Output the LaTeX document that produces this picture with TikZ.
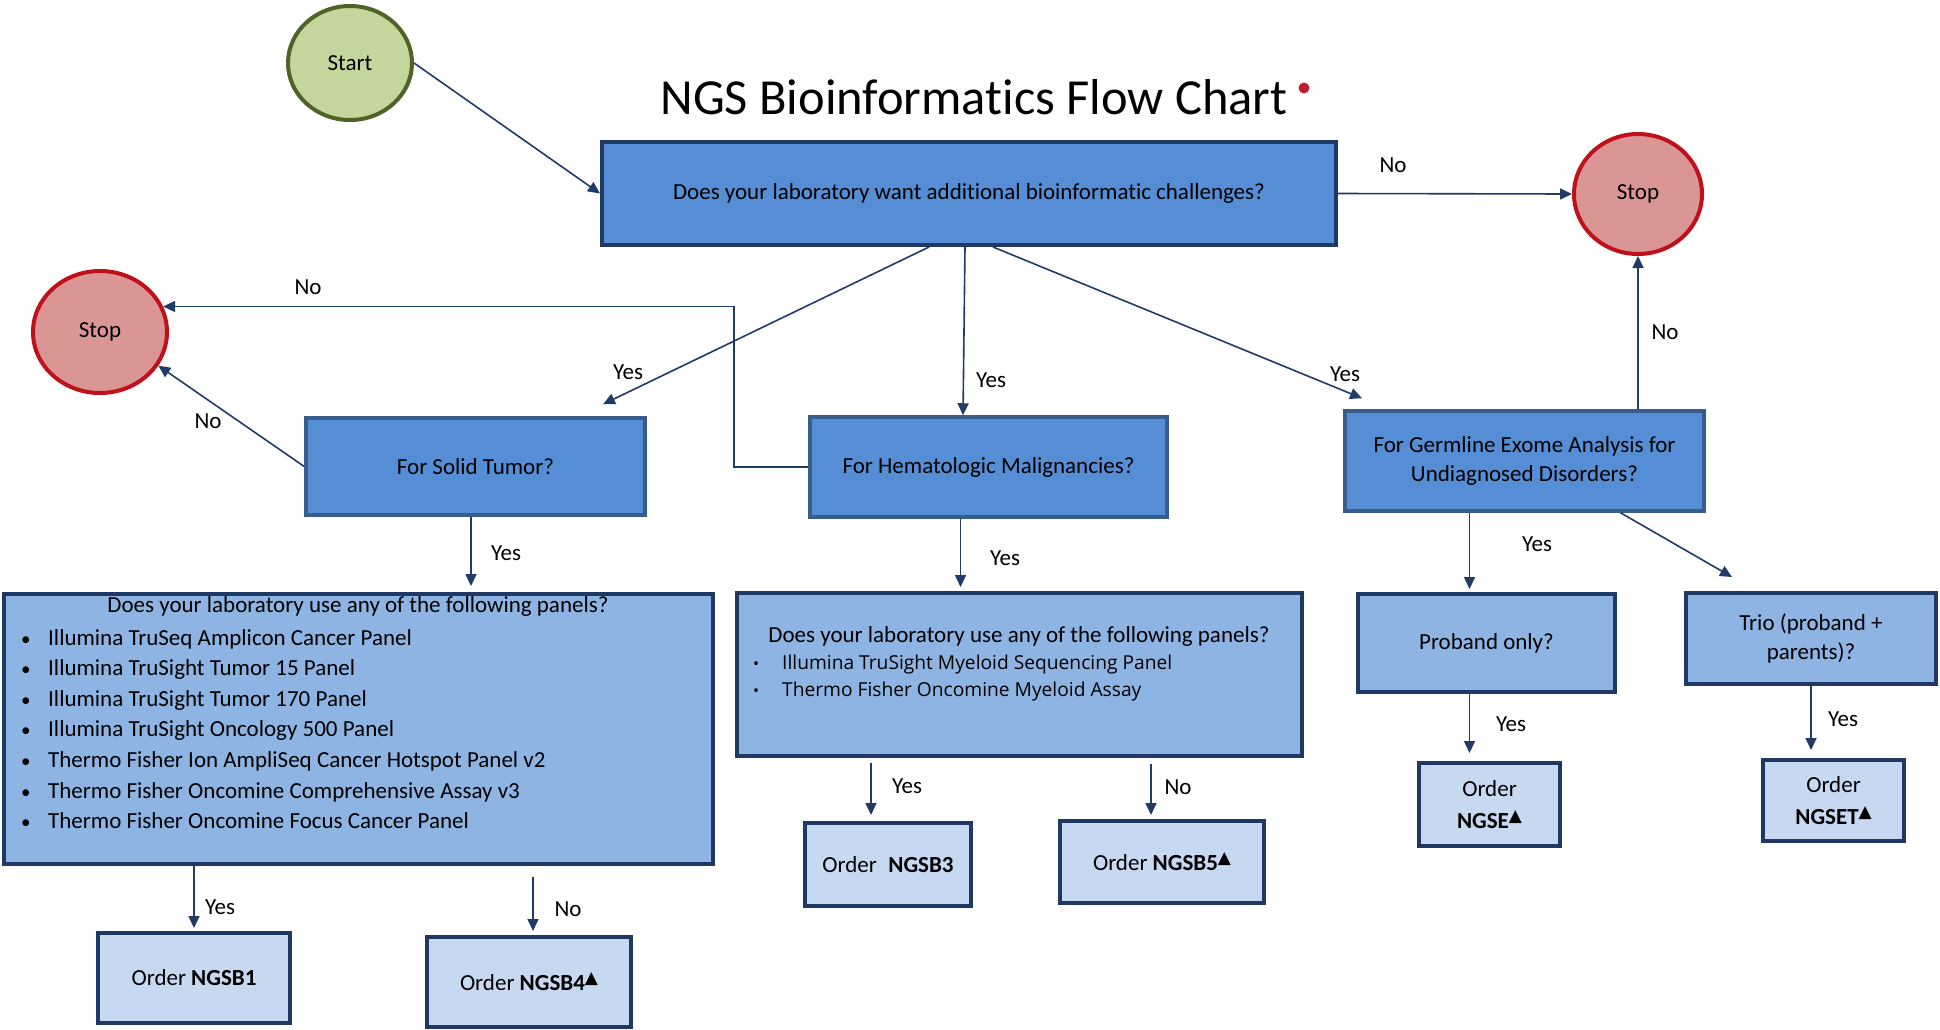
\documentclass[tikz,border=0pt]{standalone}
\usepackage{fontspec}
\setmainfont{Carlito}[Ligatures=NoCommon]
\newfontfamily\symfont{DejaVu Sans}
\newfontfamily\listfont{Open Sans}
\usetikzlibrary{shapes.geometric,arrows.meta}
\definecolor{arrowc}{HTML}{1F3B66}
\definecolor{navyb}{HTML}{1F3864}
\definecolor{midb}{HTML}{558ED5}
\definecolor{midbord}{HTML}{385D8A}
\definecolor{lightb}{HTML}{8EB4E3}
\definecolor{paleb}{HTML}{C6D9F1}
\definecolor{startfill}{HTML}{C3D69B}
\definecolor{startbord}{HTML}{4F6228}
\definecolor{stopfill}{HTML}{D99694}
\definecolor{stopbord}{HTML}{C0101A}
\definecolor{dotred}{HTML}{C0202A}
\newcommand\bodyfnt{\fontsize{23}{28.5}\selectfont}
\newcommand\tri{\raisebox{7pt}{\symfont\fontsize{17}{17}\selectfont ▲}}
\newcommand\bigbul{{\fontsize{19}{19}\selectfont\textbullet}}
\newcommand\smallbul{{\fontsize{16}{16}\selectfont\textbullet}}
\newcommand\bul{\makebox[27pt][l]{\bigbul}}
\newcommand\bulb{\makebox[29pt][l]{\smallbul}}
\tikzset{
  arr/.style={draw=arrowc, line width=1.6pt, -{Triangle[length=12pt,width=11pt]}},
  basebox/.style={rectangle, inner sep=0pt, align=center, font=\bodyfnt, text=black},
  qmain/.style={basebox, draw=navyb, line width=4pt, fill=midb},
  qbox/.style={basebox, draw=midbord, line width=3.5pt, fill=midb},
  panel/.style={basebox, draw=navyb, line width=4pt, fill=lightb},
  order/.style={basebox, draw=navyb, line width=4pt, fill=paleb},
  startc/.style={ellipse, inner sep=0pt, draw=startbord, line width=4pt, fill=startfill, font=\bodyfnt},
  stopc/.style={ellipse, inner sep=0pt, draw=stopbord, line width=4pt, fill=stopfill, font=\bodyfnt},
  lbl/.style={inner sep=0pt, font=\bodyfnt},
}
\begin{document}
\begin{tikzpicture}[x=1pt,y=-1pt]
\useasboundingbox (0,0) rectangle (1940,1029);
% nodes
\node[startc, minimum width=124pt, minimum height=114pt] (start) at (350,63) {Start};
\node[inner sep=0pt, font=\fontsize{50.5}{60}\selectfont] (title) at (974,97) {NGS Bioinformatics Flow Chart};
\node[circle, fill=dotred, minimum size=11pt, inner sep=0pt] (dot) at (1304,88) {};
\node[qmain, minimum width=734pt, minimum height=103pt] (q0) at (969,193.5) {Does your laboratory want additional bioinformatic challenges?};
\node[stopc, minimum width=128pt, minimum height=120pt] (stopR) at (1638,194) {Stop};
\node[stopc, minimum width=134pt, minimum height=122pt] (stopL) at (100,332) {Stop};
\node[qbox, minimum width=339pt, minimum height=97pt] (solid) at (475.5,466.5) {For Solid Tumor?};
\node[qbox, minimum width=357pt, minimum height=100pt] (heme) at (988.5,467) {For Hematologic Malignancies?};
\node[qbox, minimum width=359pt, minimum height=100pt] (germ) at (1524.5,461) {For Germline Exome Analysis for\\Undiagnosed Disorders?};
\node[panel, minimum width=709pt, minimum height=270pt] (p1) at (358.5,729) {};
\node[panel, minimum width=565pt, minimum height=163pt] (p2) at (1019.5,674.5) {};
\node[panel, minimum width=257pt, minimum height=98pt] (proband) at (1486.5,643) {Proband only?};
\node[panel, minimum width=250pt, minimum height=91pt] (trio) at (1811,638.5) {Trio (proband +\\parents)?};
\node[order, minimum width=141pt, minimum height=83pt] (ngse) at (1489.5,804.5) {Order\\[3pt]\textbf{NGSE}\tri};
\node[order, minimum width=141pt, minimum height=81pt] (ngset) at (1833.5,800.5) {Order\\[3pt]\textbf{NGSET}\tri};
\node[order, minimum width=192pt, minimum height=90pt] (ngsb1) at (194,978) {Order \textbf{NGSB1}};
\node[order, minimum width=204pt, minimum height=90pt] (ngsb4) at (529,982) {Order \textbf{NGSB4}\tri};
\node[order, minimum width=166pt, minimum height=83pt] (ngsb3) at (888,864.5) {Order\enspace\textbf{NGSB3}};
\node[order, minimum width=204pt, minimum height=82pt] (ngsb5) at (1162,862) {Order \textbf{NGSB5}\tri};
% panel texts
\node[lbl] (p1head) at (358,606) {Does your laboratory use any of the following panels?};
\node[inner sep=0pt, anchor=north west, align=left, font=\fontsize{23}{30.6}\selectfont] (p1list) at (21,629)
 {\bul Illumina TruSeq Amplicon Cancer Panel\\
  \bul Illumina TruSight Tumor 15 Panel\\
  \bul Illumina TruSight Tumor 170 Panel\\
  \bul Illumina TruSight Oncology 500 Panel\\
  \bul Thermo Fisher Ion AmpliSeq Cancer Hotspot Panel v2\\
  \bul Thermo Fisher Oncomine Comprehensive Assay v3\\
  \bul Thermo Fisher Oncomine Focus Cancer Panel};
\node[lbl] (p2head) at (1019,636) {Does your laboratory use any of the following panels?};
\node[inner sep=0pt, anchor=north west, align=left, font=\listfont\fontsize{19.2}{27}\selectfont] (p2list) at (753,655)
 {\bulb Illumina TruSight Myeloid Sequencing Panel\\
  \bulb Thermo Fisher Oncomine Myeloid Assay};
% connectors
\draw[arr] (start.east) -- (q0.west);
\draw[arr] (q0.east) -- (stopR.west);
\draw[arr] ([xshift=-40pt]q0.south) -- ([xshift=127.5pt,yshift=12pt]solid.north);
\draw[arr] ([xshift=-4pt]q0.south) -- ([xshift=-25.5pt]heme.north);
\draw[arr] ([xshift=24pt]q0.south) -- ([xshift=-162.5pt,yshift=11pt]germ.north);
\draw[arr] (solid.west) -- (stopL.-30);
\draw[arr] (heme.west) -- ++(-74,0) |- (stopL.22);
\draw[arr] (germ.north -| stopR.south) -- (stopR.south);
\draw[arr] ([xshift=-4.5pt]solid.south) -- ([xshift=-4.5pt,yshift=6pt]solid.south |- p1.north);
\draw[arr] ([xshift=-28pt]heme.south) -- ([xshift=-28pt,yshift=4pt]heme.south |- p2.north);
\draw[arr] ([xshift=-17pt]proband.north |- germ.south) -- ([xshift=-17pt,yshift=3pt]proband.north);
\draw[arr] ([xshift=96pt]germ.south) -- ([xshift=-79pt,yshift=14pt]trio.north);
\draw[arr] ([xshift=-17pt]proband.south) -- ([xshift=-20pt,yshift=8pt]ngse.north);
\draw[arr] (trio.south) -- ([yshift=8pt]trio.south |- ngset.north);
\draw[arr] (ngsb1.north |- p1.south) -- ([yshift=3pt]ngsb1.north);
\draw[arr] ([xshift=4pt,yshift=-11pt]ngsb4.north |- p1.south) -- ([xshift=4pt,yshift=4pt]ngsb4.north);
\draw[arr] ([xshift=-17pt,yshift=-5pt]ngsb3.north |- p2.south) -- ([xshift=-17pt,yshift=6pt]ngsb3.north);
\draw[arr] ([xshift=-11pt,yshift=-6pt]ngsb5.north |- p2.south) -- ([xshift=-11pt,yshift=4pt]ngsb5.north);
% labels
\node[lbl] (lno1) at (1393,165) {No};
\node[lbl] (lno2) at (308,287) {No};
\node[lbl] (lno3) at (208,421) {No};
\node[lbl] (lno4) at (1665,332) {No};
\node[lbl] (lno5) at (568,909) {No};
\node[lbl] (lno6) at (1178,787) {No};
\node[lbl] (lyes1) at (628,372) {Yes};
\node[lbl] (lyes2) at (991,380) {Yes};
\node[lbl] (lyes3) at (1345,374) {Yes};
\node[lbl] (lyes4) at (506,553) {Yes};
\node[lbl] (lyes5) at (1005,558) {Yes};
\node[lbl] (lyes6) at (1537,544) {Yes};
\node[lbl] (lyes7) at (1511,724) {Yes};
\node[lbl] (lyes8) at (1843,719) {Yes};
\node[lbl] (lyes9) at (220,907) {Yes};
\node[lbl] (lyes10) at (907,786) {Yes};
\end{tikzpicture}
\end{document}
